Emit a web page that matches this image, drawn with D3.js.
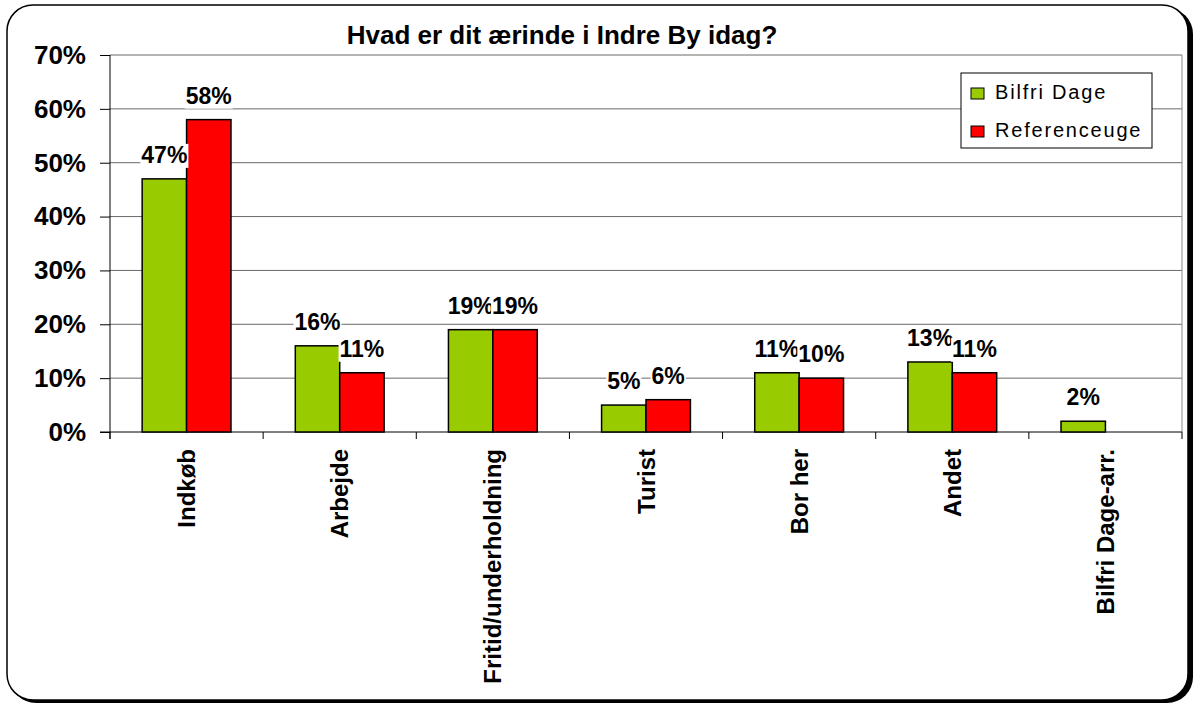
<!DOCTYPE html>
<html>
<head>
<meta charset="utf-8">
<script src="https://cdn.jsdelivr.net/npm/d3@7"></script>
<style>
  body { margin: 0; background: #fff; }
  svg { display: block; font-family: Arial, "Liberation Sans", sans-serif; }
</style>
</head>
<body>
<svg class="chart"></svg>
<script>
// survey answers, percent
var categories = ["Indkøb", "Arbejde", "Fritid/underholdning", "Turist", "Bor her", "Andet", "Bilfri Dage-arr."];
var seriesNames = ["Bilfri Dage", "Referenceuge"];
var bilfri = [47, 16, 19, 5, 11, 13, 2];
var reference = [58, 11, 19, 6, 10, 11, null];
var yTicks = [0, 10, 20, 30, 40, 50, 60, 70];
var colors = ["#99cc00", "#ff0000"];

var width = 1197,
    height = 704;
var plotLeft = 110, plotRight = 1182, plotTop = 55, plotBottom = 432;

var svg = d3.select(".chart")
    .attr("width", width)
    .attr("height", height);

// frame with shadow
svg.append("rect")
    .attr("x", 10).attr("y", 8)
    .attr("width", 1183).attr("height", 695)
    .attr("rx", 26)
    .attr("fill", "#000");
svg.append("rect")
    .attr("x", 7).attr("y", 5)
    .attr("width", 1181).attr("height", 695)
    .attr("rx", 26)
    .attr("fill", "#fff")
    .attr("stroke", "#000")
    .attr("stroke-width", 1.5);

var x = d3.scaleBand()
    .domain(categories)
    .range([plotLeft, plotRight]);

var x1 = d3.scaleBand()
    .domain(seriesNames)
    .range([x.bandwidth() * 0.21, x.bandwidth() * 0.79]);

var y = d3.scaleLinear()
    .domain([0, 70])
    .range([plotBottom, plotTop]);

// gridlines
svg.append("g")
  .selectAll("line")
  .data(yTicks.filter(function(d){ return d > 0; }))
  .enter()
  .append("line")
    .attr("x1", plotLeft).attr("x2", plotRight)
    .attr("y1", function(d){ return y(d); })
    .attr("y2", function(d){ return y(d); })
    .attr("stroke", "#6a6a6a")
    .attr("stroke-width", 1);

svg.append("line")
    .attr("x1", plotRight).attr("x2", plotRight)
    .attr("y1", plotTop).attr("y2", plotBottom)
    .attr("stroke", "#8a8a8a");

// y axis
var yAxis = svg.append("g")
    .attr("transform", "translate(" + plotLeft + ",0)")
    .call(d3.axisLeft(y).tickValues(yTicks).tickSize(10).tickPadding(14)
      .tickFormat(function(d){ return d + "%"; }));
yAxis.select(".domain").remove();
yAxis.append("line")
    .attr("y1", plotTop).attr("y2", plotBottom + 7)
    .attr("stroke", "#000");
yAxis.selectAll(".tick line").attr("stroke", "#000");
yAxis.selectAll("text")
    .attr("fill", "#000")
    .attr("font-size", 26)
    .attr("font-weight", "bold")
    .attr("font-family", "Arial, 'Liberation Sans', sans-serif");

// x axis
var xAxis = svg.append("g")
    .attr("transform", "translate(0," + plotBottom + ")")
    .call(d3.axisBottom(x).tickSize(0).tickPadding(0));
xAxis.select(".domain").remove();
xAxis.append("line")
    .attr("x1", plotLeft - 10).attr("x2", plotRight)
    .attr("stroke", "#000");
xAxis.selectAll(".bound")
    .data(categories.map(function(c){ return x(c); }).concat([plotRight]))
    .enter()
    .append("line")
      .attr("x1", function(d){ return d; })
      .attr("x2", function(d){ return d; })
      .attr("y1", 0).attr("y2", 7)
      .attr("stroke", "#000");
xAxis.selectAll(".tick text")
    .attr("fill", "#000")
    .attr("font-size", 24)
    .attr("font-weight", "bold")
    .attr("font-family", "Arial, 'Liberation Sans', sans-serif")
    .attr("text-anchor", "end")
    .attr("transform", "rotate(-90)")
    .attr("x", -17)
    .attr("y", 0)
    .attr("dy", "0.36em");

// bars
var rows = [];
categories.forEach(function(c, i){
  rows.push({cat: c, s: seriesNames[0], v: bilfri[i], col: colors[0]});
  rows.push({cat: c, s: seriesNames[1], v: reference[i], col: colors[1]});
});
rows = rows.filter(function(d){ return d.v != null; });

svg.append("g")
  .selectAll("rect")
  .data(rows)
  .enter()
  .append("rect")
    .attr("x", function(d){ return x(d.cat) + x1(d.s); })
    .attr("y", function(d){ return y(d.v); })
    .attr("width", x1.bandwidth())
    .attr("height", function(d){ return y(0) - y(d.v); })
    .attr("fill", function(d){ return d.col; })
    .attr("stroke", "#000")
    .attr("stroke-width", 1.5);

// value labels with white boxes
var labels = svg.append("g")
  .selectAll("g")
  .data(rows)
  .enter()
  .append("g");

labels.append("text")
    .attr("x", function(d){ return x(d.cat) + x1(d.s) + x1.bandwidth() / 2; })
    .attr("y", function(d){ return y(d.v) - 16; })
    .attr("text-anchor", "middle")
    .attr("font-size", 23)
    .attr("font-weight", "bold")
    .text(function(d){ return d.v + "%"; });

labels.each(function(){
  var g = d3.select(this);
  var b = g.select("text").node().getBBox();
  g.insert("rect", "text")
    .attr("x", b.x - 1).attr("y", b.y + 2)
    .attr("width", b.width + 2).attr("height", b.height - 2)
    .attr("fill", "#fff");
});

// title
svg.append("text")
    .attr("x", 562)
    .attr("y", 44)
    .attr("text-anchor", "middle")
    .attr("font-size", 26)
    .attr("font-weight", "bold")
    .text("Hvad er dit ærinde i Indre By idag?");

// legend
var legend = svg.append("g").attr("transform", "translate(961,73)");
legend.append("rect")
    .attr("width", 191).attr("height", 75)
    .attr("fill", "#fff")
    .attr("stroke", "#000");
var item = legend.selectAll(".item")
    .data(seriesNames)
    .enter()
    .append("g")
      .attr("transform", function(d, i){ return "translate(0," + (i * 38) + ")"; });
item.append("rect")
    .attr("x", 10).attr("y", 15)
    .attr("width", 13).attr("height", 11)
    .attr("fill", function(d, i){ return colors[i]; })
    .attr("stroke", "#000");
item.append("text")
    .attr("x", 34).attr("y", 26)
    .attr("font-size", 20)
    .attr("letter-spacing", 1.8)
    .text(function(d){ return d; });
</script>
</body>
</html>
